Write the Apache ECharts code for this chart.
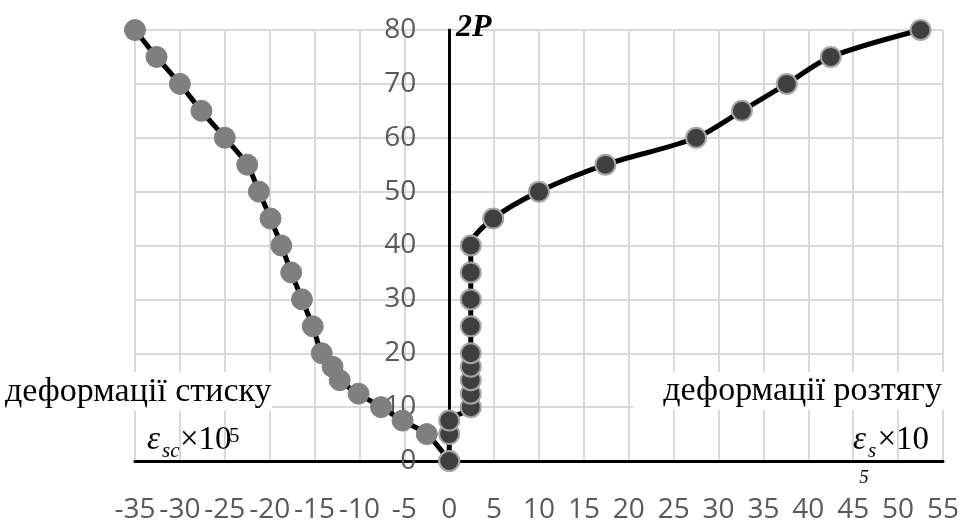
<!DOCTYPE html>
<html>
<head>
<meta charset="utf-8">
<script src="https://cdn.jsdelivr.net/npm/echarts@6/dist/echarts.min.js"></script>
<style>
html,body{margin:0;padding:0;background:#fff;}
#chart{width:964px;height:520px;}
</style>
</head>
<body>
<div id="chart"></div>
<script>
// Compression strain (εsc×10^5) vs load 2P
const compX = [-35, -32.6, -30, -27.6, -25, -22.5, -21.2, -19.9, -18.7, -17.6, -16.4, -15.2, -14.2, -13.0, -12.2, -10.1, -7.6, -5.2, -2.5, 0];
const compY = [80, 75, 70, 65, 60, 55, 50, 45, 40, 35, 30, 25, 20, 17.5, 15, 12.5, 10, 7.5, 5, 0];
// Tension strain (εs×10^5) vs load 2P
const tensX = [0, 0, 0, 2.4, 2.4, 2.4, 2.4, 2.4, 2.4, 2.4, 2.4, 2.4, 4.9, 10, 17.4, 27.5, 32.6, 37.6, 42.5, 52.5];
const tensY = [0, 5, 7.5, 10, 12.5, 15, 17.5, 20, 25, 30, 35, 40, 45, 50, 55, 60, 65, 70, 75, 80];
// Axis ranges
const xMin = -35, xMax = 55, xStep = 5;
const yMin = 0, yMax = 80, yStep = 10;

const zip = (xs, ys) => xs.map((x, i) => [x, ys[i]]);

const gridLeft = 135, gridRight = 21, W = 964;
const gridW = W - gridLeft - gridRight;
const yAxisOffset = -((0 - xMin) / (xMax - xMin)) * gridW;

const chart = echarts.init(document.getElementById('chart'), null, {renderer: 'canvas'});
const serif = '"Liberation Serif", "Times New Roman", serif';
chart.setOption({
  animation: false,
  backgroundColor: '#fff',
  grid: {left: gridLeft, right: gridRight, top: 30, bottom: 59, containLabel: false, outerBoundsMode: 'none'},
  xAxis: {
    type: 'value', min: xMin, max: xMax, interval: xStep,
    axisLine: {show: true, onZero: true, lineStyle: {color: '#000', width: 3}},
    axisTick: {show: false},
    axisLabel: {color: '#595959', fontSize: 28, fontFamily: '"Open Sans"', margin: 35},
    splitLine: {show: true, lineStyle: {color: '#d9d9d9', width: 2}}
  },
  yAxis: {
    type: 'value', min: yMin, max: yMax, interval: yStep,
    position: 'left', offset: yAxisOffset,
    axisLine: {show: true, onZero: false, lineStyle: {color: '#000', width: 3}},
    axisTick: {show: false},
    axisLabel: {color: '#595959', fontSize: 28, fontFamily: '"Open Sans"', margin: 33},
    splitLine: {show: true, lineStyle: {color: '#d9d9d9', width: 2}}
  },
  graphic: [
    {type: 'rect', shape: {x: 0, y: 372, width: 272, height: 39}, style: {fill: '#fff'}, z: 5},
    {type: 'rect', shape: {x: 633, y: 372, width: 312, height: 38}, style: {fill: '#fff'}, z: 5},
    {type: 'text', x: 5, y: 392, z: 6, style: {text: 'деформації стиску', font: '34px ' + serif, fill: '#000', align: 'left', verticalAlign: 'middle'}},
    {type: 'text', x: 942, y: 391, z: 6, style: {text: 'деформації розтягу', font: '34px ' + serif, fill: '#000', align: 'right', verticalAlign: 'middle'}},
    {type: 'text', x: 456, y: 28, z: 6, style: {text: '2P', font: 'italic bold 32px ' + serif, fill: '#000', align: 'left', verticalAlign: 'middle'}},
    // εsc×10^5 (left)
    {type: 'text', x: 147, y: 440, z: 6, style: {text: 'ε', font: 'italic 33px ' + serif, fill: '#000', align: 'left', verticalAlign: 'middle'}},
    {type: 'text', x: 162, y: 451, z: 6, style: {text: 'sc', font: 'italic 21px ' + serif, fill: '#000', align: 'left', verticalAlign: 'middle'}},
    {type: 'text', x: 180, y: 440, z: 6, style: {text: '×10', font: '33px ' + serif, fill: '#000', align: 'left', verticalAlign: 'middle'}},
    {type: 'text', x: 229, y: 436, z: 6, style: {text: '5', font: '21px ' + serif, fill: '#000', align: 'left', verticalAlign: 'middle'}},
    // εs×10 with 5 below (right)
    {type: 'text', x: 853, y: 440, z: 6, style: {text: 'ε', font: 'italic 33px ' + serif, fill: '#000', align: 'left', verticalAlign: 'middle'}},
    {type: 'text', x: 868, y: 451, z: 6, style: {text: 's', font: 'italic 21px ' + serif, fill: '#000', align: 'left', verticalAlign: 'middle'}},
    {type: 'text', x: 929, y: 440, z: 6, style: {text: '×10', font: '33px ' + serif, fill: '#000', align: 'right', verticalAlign: 'middle'}},
    {type: 'text', x: 864, y: 478, z: 6, style: {text: '5', font: 'italic 19px ' + serif, fill: '#000', align: 'center', verticalAlign: 'middle'}}
  ],
  series: [
    {
      type: 'line', data: zip(compX, compY), smooth: 0.3,
      symbol: 'circle', symbolSize: 21, z: 3,
      lineStyle: {color: '#000', width: 5},
      itemStyle: {color: '#7f7f7f', borderColor: '#7f7f7f', borderWidth: 1}
    },
    {
      type: 'line', data: zip(tensX, tensY), smooth: 0.3,
      symbol: 'circle', symbolSize: 20, z: 4,
      lineStyle: {color: '#000', width: 5},
      itemStyle: {color: '#3f3f3f', borderColor: '#a6a6a6', borderWidth: 2}
    }
  ]
});
</script>
</body>
</html>
